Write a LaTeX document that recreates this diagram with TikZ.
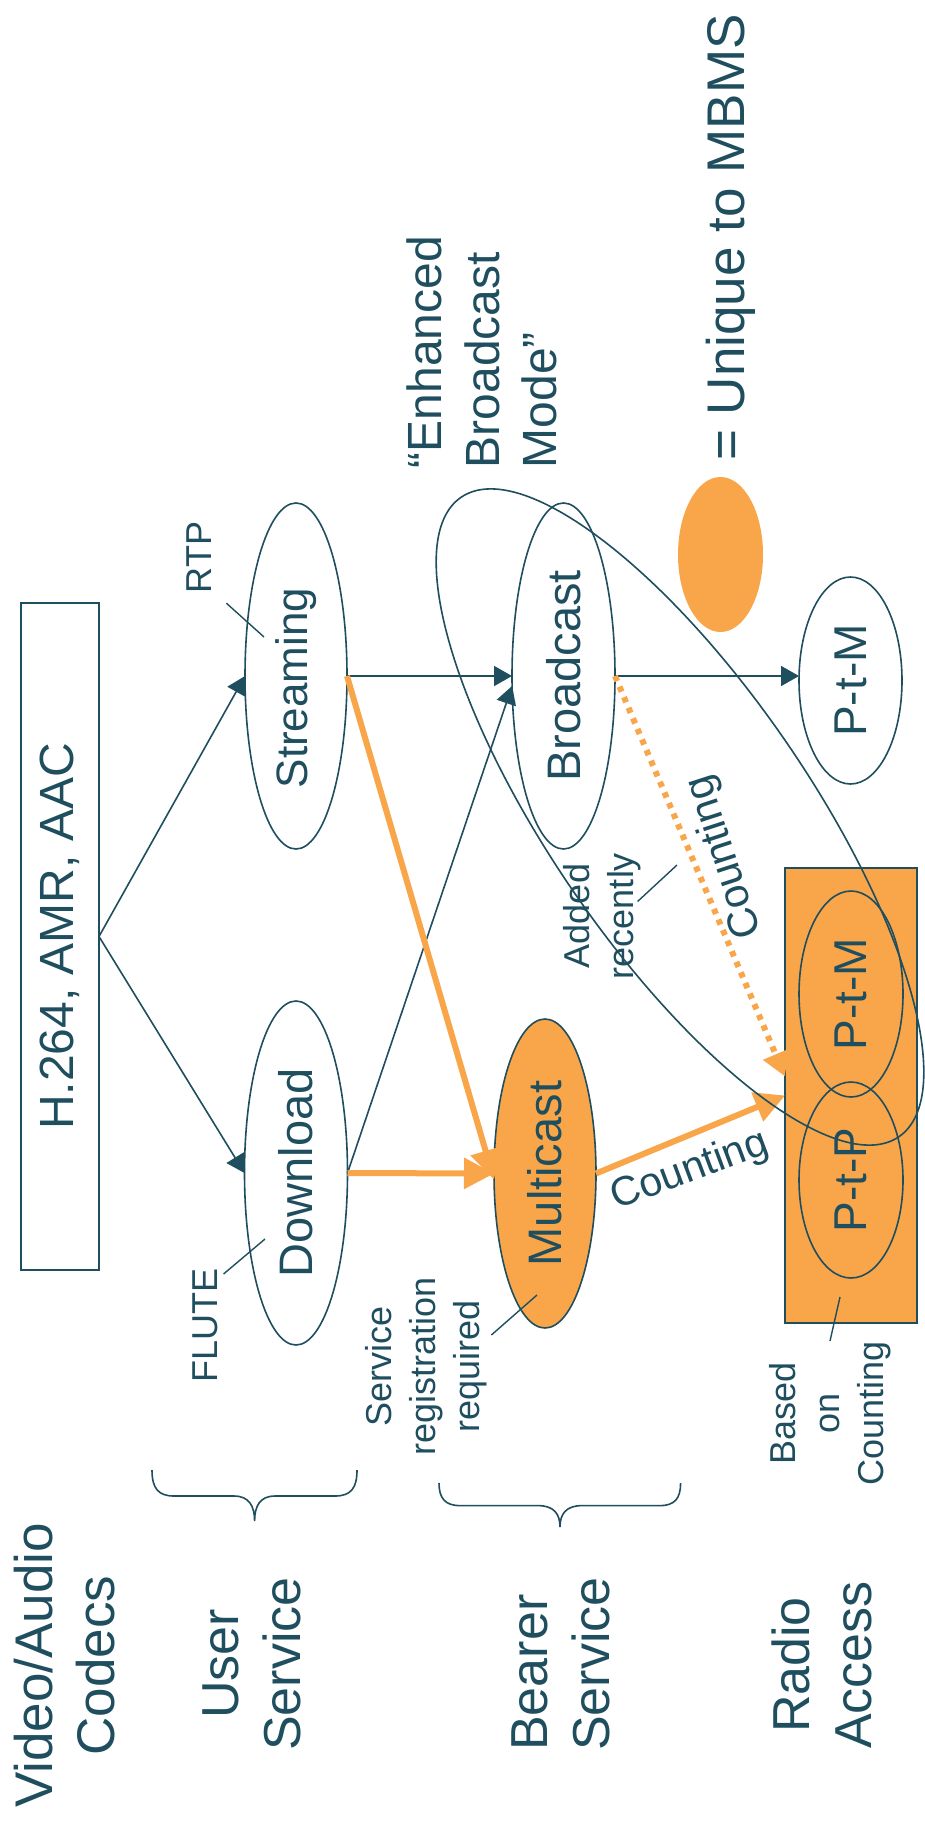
\documentclass[tikz,border=0pt]{standalone}
\usepackage{fontspec}
\setmainfont{Liberation Sans}
\usepackage{graphicx}
\usetikzlibrary{shapes.geometric,arrows.meta,calc}
\definecolor{dk}{HTML}{1F4E5F}
\definecolor{org}{HTML}{F9A64A}
\newcommand{\fsz}[2]{\fontsize{#1}{#2}\selectfont}
\begin{document}
\begin{tikzpicture}[x=1pt,y=1pt,
  every node/.style={inner sep=0pt, outer sep=0pt, text=dk},
  ell/.style={draw=dk, line width=1.6pt, ellipse, inner sep=0pt},
  lab/.style={rotate=90},
  dkarrow/.style={draw=dk, line width=1.6pt, -{Triangle[length=18pt,width=20pt]}},
  orarrow/.style={draw=org, line width=6pt, -{Triangle[length=30pt,width=30pt]}},
  dotarrow/.style={draw=org, line width=6pt, dash pattern=on 5.5pt off 6pt, -{Triangle[length=24pt,width=26pt]}},
  leader/.style={draw=dk, line width=1.4pt},
  brace/.style={draw=dk, line width=1.6pt},
]
\useasboundingbox (0,0) rectangle (924,-1825);
\fill[white] (0,0) rectangle (924,-1825);

% codec box
\node[draw=dk, line width=1.6pt, minimum width=78pt, minimum height=667pt] (codec) at (60,-936.5)
  {\rotatebox{90}{\fsz{48pt}{56pt}H.264, AMR, AAC}};

% service ellipses
\node[ell, minimum width=102pt, minimum height=346pt] (stream) at (296,-676) {\rotatebox{90}{\fsz{44pt}{52pt}\hspace*{-24pt}Streaming}};
\node[ell, minimum width=103pt, minimum height=344pt] (dl) at (296,-1173) {\rotatebox{90}{\fsz{47pt}{55pt}Download}};
\node[ell, minimum width=103pt, minimum height=346pt] (bcast) at (563.5,-676) {\rotatebox{90}{\fsz{47pt}{55pt}Broadcast}};
\node[ell, fill=org, minimum width=102pt, minimum height=309pt] (mc) at (545,-1173.5) {\rotatebox{90}{\fsz{47pt}{55pt}Multicast}};
\node[ell, minimum width=103pt, minimum height=207pt] (ptm1) at (850.5,-680.5) {\rotatebox{90}{\fsz{46pt}{54pt}P-t-M}};

% legend
\node[ellipse, fill=org, minimum width=85pt, minimum height=155pt] (legend) at (720.5,-554.5) {};
\node[lab, font=\fsz{53pt}{60pt}] (uniq) at (731,-237.5) {= Unique to MBMS};

% radio access box
\node[draw=dk, line width=1.6pt, fill=org, minimum width=132pt, minimum height=455pt] (prect) at (851,-1095.5) {};
\node[ell, minimum width=104pt, minimum height=206pt] (ptm2) at (851,-994) {\rotatebox{90}{\fsz{46pt}{54pt}P-t-M}};
\node[ell, minimum width=104pt, minimum height=196pt] (ptp) at (851,-1180) {\rotatebox{90}{\fsz{46pt}{54pt}P-t-P}};

% arrows
\draw[dkarrow] (codec.east) -- (stream.west);
\draw[dkarrow] (codec.east) -- (dl.west);
\draw[dkarrow] (stream.east) -- (bcast.west);
\draw[dkarrow] (dl.east) -- (bcast.191);
\draw[dkarrow] (bcast.east) -- (bcast.east -| ptm1.west);
\draw[orarrow] (stream.east) -- (mc.187);
\draw[orarrow] (dl.east) -- (mc.west);
\draw[orarrow] (mc.east) -- (prect.west);
\draw[dotarrow] (bcast.east) -- ([yshift=19pt]prect.west);

% enhanced broadcast mode ellipse
\node[ellipse, draw=dk, line width=1.6pt, minimum width=775pt, minimum height=260pt, rotate=-55.6] (ebm) at (680,-817) {};
\node[lab, align=left, font=\fsz{48pt}{57.5pt}] (ebmt) at (482,-352) {“Enhanced\\Broadcast\\Mode”};

% edge labels
\node[rotate=108, font=\fsz{42pt}{50pt}] (cnt1) at (725,-857) {Counting};
\node[rotate=20.5, font=\fsz{41pt}{50pt}] (cnt2) at (690,-1171) {Counting};

% small annotations
\node[lab, font=\fsz{36pt}{44pt}] (rtp) at (199,-557.5) {RTP};
\node[lab, font=\fsz{36pt}{44pt}] (flute) at (205,-1325) {FLUTE};
\node[lab, align=center, font=\fsz{36pt}{44pt}] (sreg) at (426.6,-1366.5) {Service\\registration\\required};
\node[lab, align=center, font=\fsz{36pt}{44pt}] (added) at (601.8,-916) {Added\\recently};
\node[lab, align=center, font=\fsz{36pt}{44pt}] (based) at (830,-1413) {Based\\on\\Counting};

\coordinate (rtpEnd) at (264,-637);
\coordinate (fluteEnd) at (265,-1239);
\coordinate (sregEnd) at (537,-1295);
\coordinate (addedEnd) at (677,-865);
\coordinate (basedEnd) at (840,-1297);
\draw[leader] ([shift={(15,-10)}]rtp.south west) -- (rtpEnd);
\draw[leader] ([shift={(6,-6)}]flute.south east) -- (fluteEnd);
\draw[leader] ([shift={(4,31.5)}]sreg.south) -- (sregEnd);
\draw[leader] ([shift={(-3,14.5)}]added.south) -- (addedEnd);
\draw[leader] (based.east) -- (basedEnd);

% layer labels
\node[lab, align=center, font=\fsz{53pt}{62pt}] (codecs) at (65,-1665.5) {Video/Audio\\Codecs};
\node[lab, align=center, font=\fsz{52pt}{62pt}] (user) at (251.5,-1664) {User\\Service};
\node[lab, align=left, font=\fsz{52pt}{62pt}] (bearer) at (560.8,-1664) {Bearer\\Service};
\node[lab, align=center, font=\fsz{52pt}{62pt}] (radio) at (822.4,-1665) {Radio\\Access};

% braces
\draw[brace] (152,-1470) .. controls (152,-1488) and (158,-1496) .. (174,-1496) -- (234,-1496)
  .. controls (249,-1496) and (254.6,-1506) .. (254.6,-1521)
  .. controls (254.6,-1506) and (260,-1496) .. (275,-1496) -- (335,-1496)
  .. controls (351,-1496) and (357,-1488) .. (357,-1470);
\draw[brace] (439,-1483) .. controls (439,-1498) and (445,-1505.6) .. (460,-1505.6) -- (538,-1505.6)
  .. controls (554,-1505.6) and (560,-1514) .. (560,-1527)
  .. controls (560,-1514) and (566,-1505.6) .. (582,-1505.6) -- (660,-1505.6)
  .. controls (675,-1505.6) and (680.6,-1498) .. (680.6,-1483);
\end{tikzpicture}
\end{document}
